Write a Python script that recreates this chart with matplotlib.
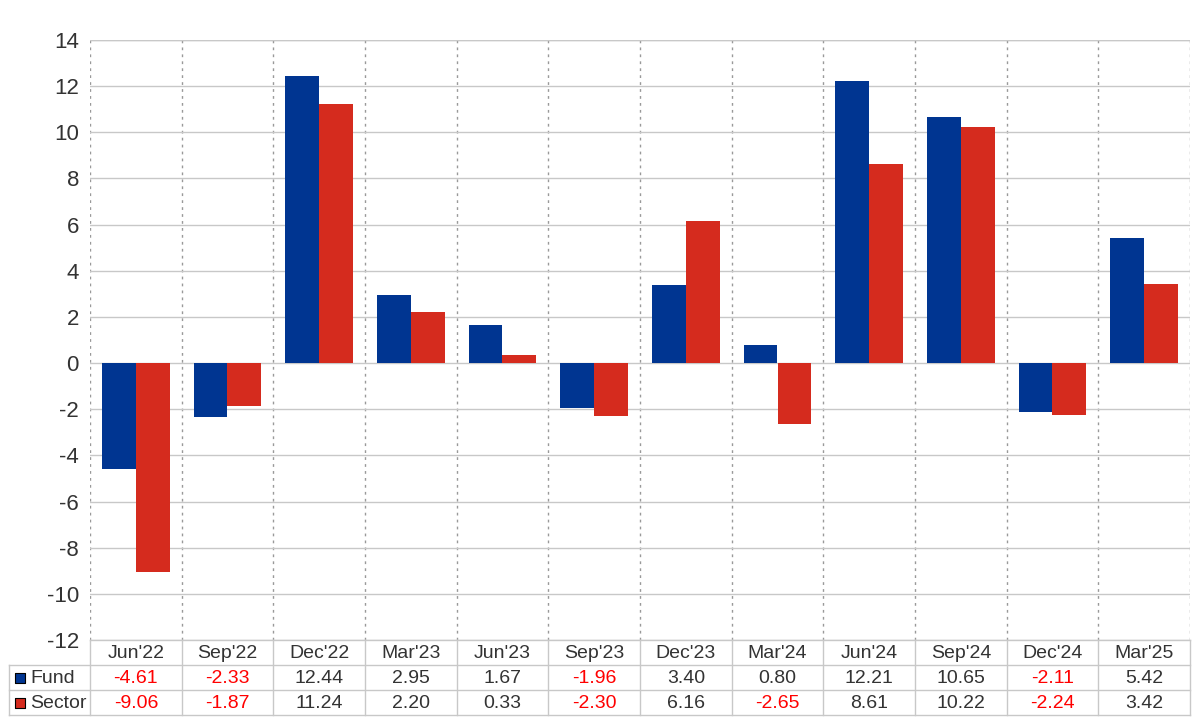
import numpy as np
import matplotlib
matplotlib.use("Agg")
import matplotlib.pyplot as plt

plt.rcParams['font.family'] = ['Liberation Sans', 'DejaVu Sans']
plt.rcParams['axes.unicode_minus'] = False

categories = ["Jun'22", "Sep'22", "Dec'22", "Mar'23", "Jun'23", "Sep'23",
              "Dec'23", "Mar'24", "Jun'24", "Sep'24", "Dec'24", "Mar'25"]
fund = [-4.61, -2.33, 12.44, 2.95, 1.67, -1.96, 3.40, 0.80, 12.21, 10.65, -2.11, 5.42]
sector = [-9.06, -1.87, 11.24, 2.20, 0.33, -2.30, 6.16, -2.65, 8.61, 10.22, -2.24, 3.42]
series_names = ["Fund", "Sector"]

blue = "#003591"
red = "#d52b1e"
grid_c = "#c8c8c8"
text_c = "#333333"

W, H = 1200, 720
fig = plt.figure(figsize=(12, 7.2), dpi=100)

# main plot area
x0, x1 = 90, 1190
ytop, ybot = 40, 640
ax = fig.add_axes([x0 / W, 1 - ybot / H, (x1 - x0) / W, (ybot - ytop) / H])

x = np.arange(len(categories))
bw = 0.37
ax.bar(x - bw / 2, fund, bw, color=blue, zorder=3)
ax.bar(x + bw / 2, sector, bw, color=red, zorder=3)

ax.set_xlim(-0.5, len(categories) - 0.5)
ax.set_ylim(-12, 14)
ax.set_yticks(np.arange(-12, 15, 2))
ax.tick_params(axis='y', length=0, labelsize=16, labelcolor=text_c, pad=8)
ax.set_xticks([])
ax.grid(axis='y', color=grid_c, linewidth=1, zorder=0)
for b in np.arange(-0.5, len(categories), 1):
    ax.axvline(b, color="#999999", linestyle=(0, (2, 3)), linewidth=1, zorder=1)
for s in ax.spines.values():
    s.set_visible(False)
ax.axhline(14, color=grid_c, linewidth=1, zorder=0)

# data table below the plot
tl = 9
row_h = 25
rows_top = ybot
units = (x1 - x0) / len(categories)
left_units = (x0 - tl) / units
tab = fig.add_axes([tl / W, 1 - (rows_top + 3 * row_h) / H,
                    (x1 - tl) / W, 3 * row_h / H])
tab.set_xlim(-0.5 - left_units, len(categories) - 0.5)
tab.set_ylim(0, 3)
tab.axis('off')

lk = dict(color=grid_c, linewidth=1, clip_on=False)
# horizontal lines
tab.plot([-0.5, len(categories) - 0.5], [3, 3], **lk)
tab.plot([-0.5 - left_units, len(categories) - 0.5], [2, 2], **lk)
tab.plot([-0.5 - left_units, len(categories) - 0.5], [1, 1], **lk)
tab.plot([-0.5 - left_units, len(categories) - 0.5], [0, 0], **lk)
# vertical lines
tab.plot([-0.5 - left_units] * 2, [0, 2], **lk)
for b in np.arange(-0.5, len(categories), 1):
    tab.plot([b, b], [0, 3], **lk)

fs = 14
for i, c in enumerate(categories):
    tab.text(i, 2.45, c, ha='center', va='center', fontsize=fs, color=text_c)
for r, (vals, name, col) in enumerate(zip([fund, sector], series_names, [blue, red])):
    yc = 1.45 - r
    for i, v in enumerate(vals):
        tab.text(i, yc, f"{v:.2f}", ha='center', va='center', fontsize=fs,
                 color="#ff0000" if v < 0 else text_c)
    tab.scatter([-0.5 - left_units + 0.12], [yc + 0.05], marker='s', s=60,
                color=col, edgecolors='black', linewidths=0.8, clip_on=False)
    tab.text(-0.5 - left_units + 0.23, yc, name, ha='left', va='center',
             fontsize=fs, color=text_c)

fig.savefig("out.png", dpi=100)
